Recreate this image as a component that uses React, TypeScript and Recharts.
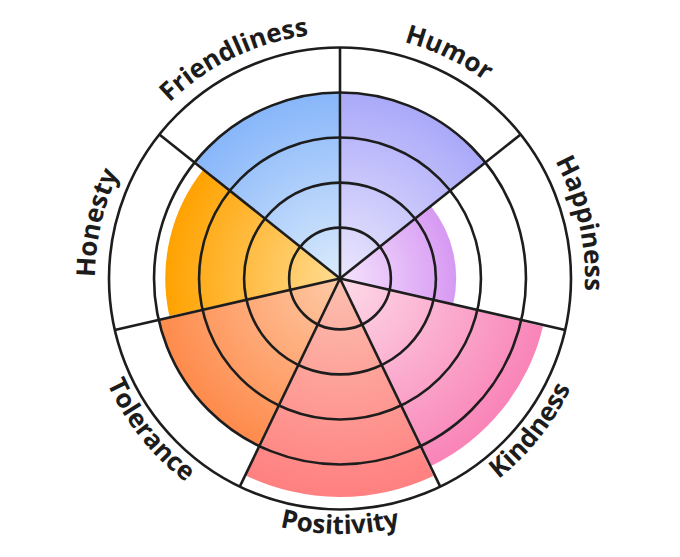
import {
  PolarAngleAxis,
  PolarGrid,
  PolarRadiusAxis,
  RadialBar,
  RadialBarChart,
  Sector,
} from 'recharts';

// data, listed counterclockwise starting from the sector right of the top spoke
const CATEGORIES = ['Humor', 'Friendliness', 'Honesty', 'Tolerance', 'Positivity', 'Kindness', 'Happiness'];
const SCORES = [4, 4, 3.75, 4, 4.72, 4.5, 2.45];
const RING_LEVELS = [1, 2, 3, 4, 5];
const SCALE_MIN = -0.13;
const SCALE_MAX = 5;

// styles
const INNER_COLORS = ['#ebe7fd', '#dbebfc', '#ffdc92', '#fecaa6', '#fcc0b0', '#fddbe8', '#f5e3fd'];
const OUTER_COLORS = ['#aaa9f9', '#87b6fa', '#ffa200', '#fe8b4c', '#ff8080', '#f984b8', '#d799f3'];

const W = 680;
const H = 557;
const CX = 340;
const CY = 278.5;
const OUTER_R = 231;
const START_ANGLE = 90;
const END_ANGLE = 450;
const LINE = '#1d1d1d';

const data = CATEGORIES.map((name, i) => ({ name, score: SCORES[i] }));

const levelRadius = (v: number) => (OUTER_R * (v - SCALE_MIN)) / (SCALE_MAX - SCALE_MIN);
const gridRadii = RING_LEVELS.map(levelRadius);
const step = (END_ANGLE - START_ANGLE) / CATEGORIES.length;
const spokeAngles = CATEGORIES.map((_, i) => START_ANGLE + i * step);

const GradientSector = (props: any) => {
  const { cx, cy, innerRadius, outerRadius, startAngle, endAngle } = props;
  let idx = CATEGORIES.indexOf(props.payload?.name ?? props.name);
  if (idx < 0) idx = props.index ?? 0;
  const id = `sector-grad-${idx}`;
  return (
    <g>
      <defs>
        <radialGradient id={id} gradientUnits="userSpaceOnUse" cx={cx} cy={cy} r={outerRadius}>
          <stop offset="0%" stopColor={INNER_COLORS[idx]} />
          <stop offset="100%" stopColor={OUTER_COLORS[idx]} />
        </radialGradient>
      </defs>
      <Sector
        cx={cx}
        cy={cy}
        innerRadius={innerRadius}
        outerRadius={outerRadius}
        startAngle={startAngle}
        endAngle={endAngle}
        fill={`url(#${id})`}
        stroke="none"
      />
    </g>
  );
};

const LABEL_R_TOP = 245;
const LABEL_R_BOTTOM = 255.5;
const SPAN = 45;

// ticks sit on the band start, so the label is pushed to the band middle
const CurvedLabel = (props: any) => {
  const { payload, index } = props;
  const angle = (payload.coordinate as number) + step / 2;
  const rad = Math.PI / 180;
  const upper = Math.sin(angle * rad) > -0.05;
  const r = upper ? LABEL_R_TOP : LABEL_R_BOTTOM;
  const a0 = upper ? angle + SPAN : angle - SPAN;
  const a1 = upper ? angle - SPAN : angle + SPAN;
  const x0 = CX + r * Math.cos(a0 * rad);
  const y0 = CY - r * Math.sin(a0 * rad);
  const x1 = CX + r * Math.cos(a1 * rad);
  const y1 = CY - r * Math.sin(a1 * rad);
  const id = `label-arc-${index}`;
  return (
    <g>
      <defs>
        <path id={id} d={`M ${x0} ${y0} A ${r} ${r} 0 0 ${upper ? 1 : 0} ${x1} ${y1}`} />
      </defs>
      <text fontFamily="'Open Sans', sans-serif" fontWeight={700} fontSize={26} fill="#1c1c1c">
        <textPath href={`#${id}`} startOffset="50%" textAnchor="middle">
          {payload.value}
        </textPath>
      </text>
    </g>
  );
};

const chartProps = {
  width: W,
  height: H,
  data,
  layout: 'centric' as const,
  cx: CX,
  cy: CY,
  innerRadius: 0,
  outerRadius: OUTER_R,
  startAngle: START_ANGLE,
  endAngle: END_ANGLE,
  barCategoryGap: 0,
  barGap: 0,
  margin: { top: 0, right: 0, bottom: 0, left: 0 },
};

export default function App() {
  return (
    <div style={{ position: 'absolute', left: 0, top: 0, width: W, height: H, background: '#fff' }}>
      <RadialBarChart {...chartProps}>
        <PolarAngleAxis
          type="category"
          dataKey="name"
          axisLine={false}
          tickLine={false}
          tick={<CurvedLabel />}
        />
        <PolarRadiusAxis
          type="number"
          domain={[SCALE_MIN, SCALE_MAX]}
          allowDataOverflow
          tick={false}
          axisLine={false}
        />
        <RadialBar
          dataKey={(d: any) => [SCALE_MIN, d.score]}
          shape={<GradientSector />}
          isAnimationActive={false}
        />
      </RadialBarChart>
      {/* grid drawn in a second layer so the rings sit over the sectors */}
      <div style={{ position: 'absolute', left: 0, top: 0 }}>
        <RadialBarChart {...chartProps}>
          <PolarAngleAxis type="category" dataKey="name" axisLine={false} tickLine={false} tick={false} />
          <PolarRadiusAxis type="number" domain={[SCALE_MIN, SCALE_MAX]} tick={false} axisLine={false} />
          <PolarGrid
            gridType="circle"
            polarRadius={gridRadii}
            polarAngles={spokeAngles}
            stroke={LINE}
            strokeWidth={2.6}
            strokeOpacity={1}
          />
        </RadialBarChart>
      </div>
    </div>
  );
}
